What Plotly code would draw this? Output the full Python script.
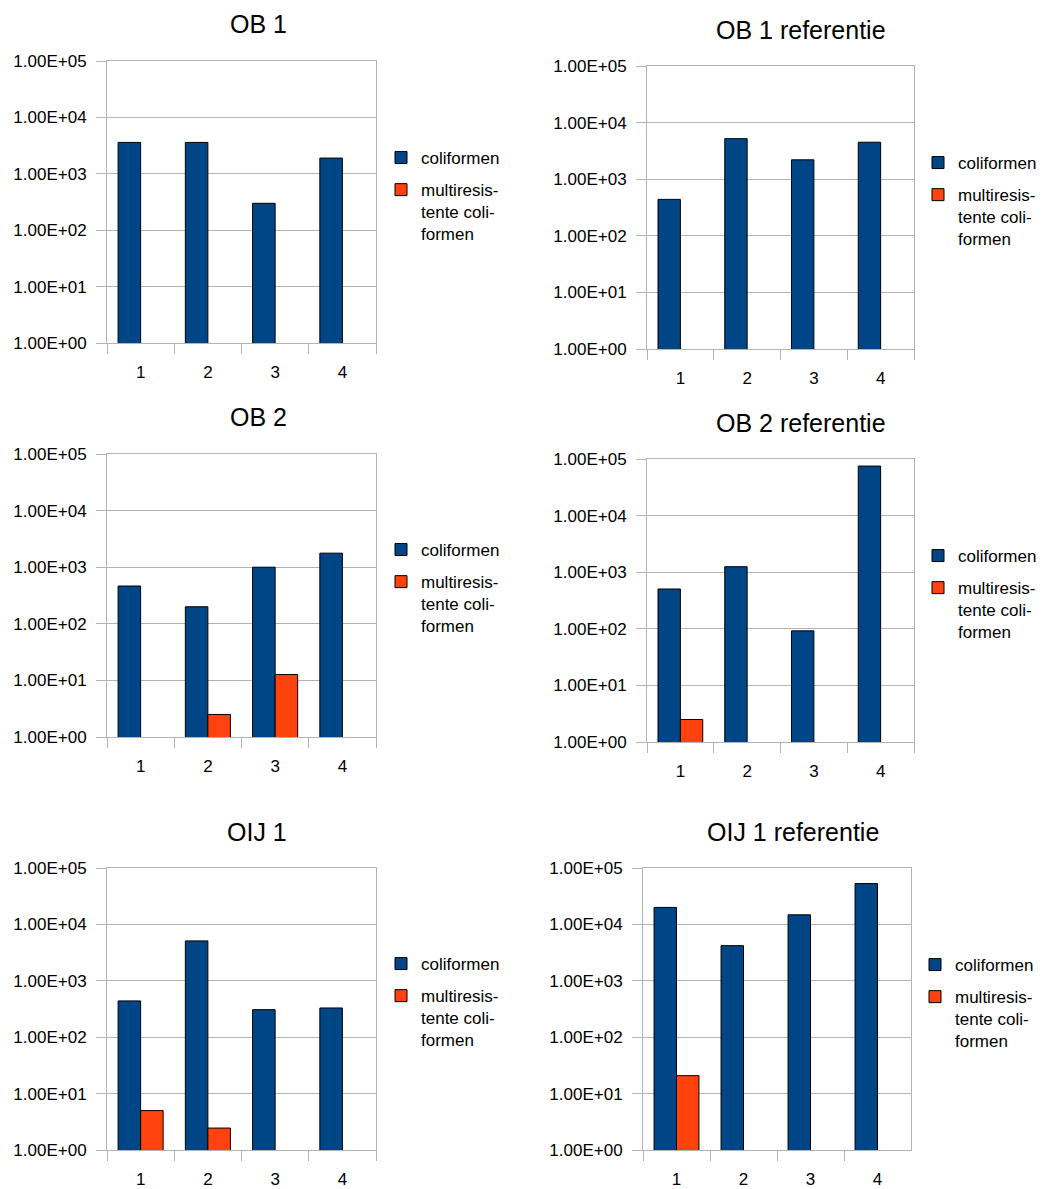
import plotly.graph_objects as go

# Sample points on the x axis
categories = ["1", "2", "3", "4"]

# Counts per panel: total coliforms and multi-resistant coliforms
ob1_coli = [3600, 3600, 300, 1900]
ob1_multi = [None, None, None, None]

ob1_ref_coli = [440, 5200, 2200, 4500]
ob1_ref_multi = [None, None, None, None]

ob2_coli = [465, 200, 1000, 1770]
ob2_multi = [None, 2.5, 12.7, None]

ob2_ref_coli = [505, 1250, 92, 75000]
ob2_ref_multi = [2.5, None, None, None]

oij1_coli = [440, 5100, 308, 330]
oij1_multi = [5.0, 2.45, None, None]

oij1_ref_coli = [20000, 4200, 14800, 53000]
oij1_ref_multi = [20.8, None, None, None]

panel_titles = ["OB 1", "OB 1 referentie", "OB 2", "OB 2 referentie",
                "OIJ 1", "OIJ 1 referentie"]
series_names = ["coliformen", "multiresis-<br>tente coli-<br>formen"]

y_tickvals = [1, 10, 100, 1000, 10000, 100000]
y_ticktext = ["1.00E+00", "1.00E+01", "1.00E+02", "1.00E+03", "1.00E+04", "1.00E+05"]

panels = [
    (ob1_coli, ob1_multi),
    (ob1_ref_coli, ob1_ref_multi),
    (ob2_coli, ob2_multi),
    (ob2_ref_coli, ob2_ref_multi),
    (oij1_coli, oij1_multi),
    (oij1_ref_coli, oij1_ref_multi),
]

W, H = 1045, 1189
FONT = "Liberation Sans, Arial, sans-serif"
BLUE = "#004586"
ORANGE = "#ff420e"
GRID = "#b3b3b3"

# plot-area boxes in pixels: (left, right, top, bottom)
boxes = [
    (107, 376, 61, 343),
    (647, 914, 66, 349),
    (107, 376, 454, 737),
    (647, 914, 459, 742),
    (107, 376, 868, 1150),
    (643, 911, 868, 1150),
]
# legend top-left positions in pixels
legend_pos = [
    (381, 140),
    (918, 145),
    (381, 532),
    (918, 538),
    (381, 946),
    (915, 947),
]
# title centres in pixels
title_pos = [(258, 24), (801, 30), (258, 417), (801, 423), (257, 832), (793, 832)]

fig = go.Figure()
layout = dict(
    width=W, height=H,
    margin=dict(l=0, r=0, t=0, b=0, autoexpand=False),
    paper_bgcolor="white", plot_bgcolor="white",
    barmode="group", bargap=0.33, bargroupgap=0,
    font=dict(family=FONT, size=17, color="#000000"),
    showlegend=True,
    annotations=[],
)

for i, ((coli, multi), (l, r, t, b)) in enumerate(zip(panels, boxes)):
    n = i + 1
    xa = "x" if n == 1 else f"x{n}"
    ya = "y" if n == 1 else f"y{n}"
    lg = "legend" if n == 1 else f"legend{n}"
    for k, (vals, color, name) in enumerate(((coli, BLUE, series_names[0]),
                                             (multi, ORANGE, series_names[1]))):
        fig.add_trace(go.Bar(
            x=categories, y=vals, name=name,
            marker=dict(color=color, line=dict(color="#000000", width=1)),
            xaxis=xa, yaxis=ya, legend=lg, legendgroup=f"p{n}s{k}",
        ))
    axis_common = dict(
        showline=True, mirror=True, linecolor=GRID, linewidth=1,
        ticks="outside", tickcolor=GRID, ticklen=10, tickwidth=1,
        tickfont=dict(family=FONT, size=17, color="#000000"),
        zeroline=False, automargin=False,
    )
    layout["xaxis" if n == 1 else f"xaxis{n}"] = dict(
        domain=[l / W, r / W], anchor=ya,
        type="category", tickson="boundaries", showgrid=False,
        ticklabelstandoff=14, **axis_common,
    )
    layout["yaxis" if n == 1 else f"yaxis{n}"] = dict(
        domain=[1 - b / H, 1 - t / H], anchor=xa,
        type="log", range=[0, 5], tickvals=y_tickvals, ticktext=y_ticktext,
        showgrid=True, gridcolor=GRID, gridwidth=1,
        ticklabelstandoff=6, **axis_common,
    )
    lx, ly = legend_pos[i]
    layout[lg] = dict(
        x=lx / W, y=1 - ly / H, xanchor="left", yanchor="top",
        xref="paper", yref="paper",
        font=dict(family=FONT, size=17, color="#000000"),
        bgcolor="rgba(0,0,0,0)", borderwidth=0, valign="top",
        itemwidth=30, traceorder="grouped", tracegroupgap=7,
    )
    tx, ty = title_pos[i]
    layout["annotations"].append(dict(
        text=panel_titles[i], x=tx / W, y=1 - ty / H, xref="paper", yref="paper",
        xanchor="center", yanchor="middle", showarrow=False,
        font=dict(family=FONT, size=25, color="#000000"),
    ))

fig.update_layout(**layout)
fig.write_html("out.html")
